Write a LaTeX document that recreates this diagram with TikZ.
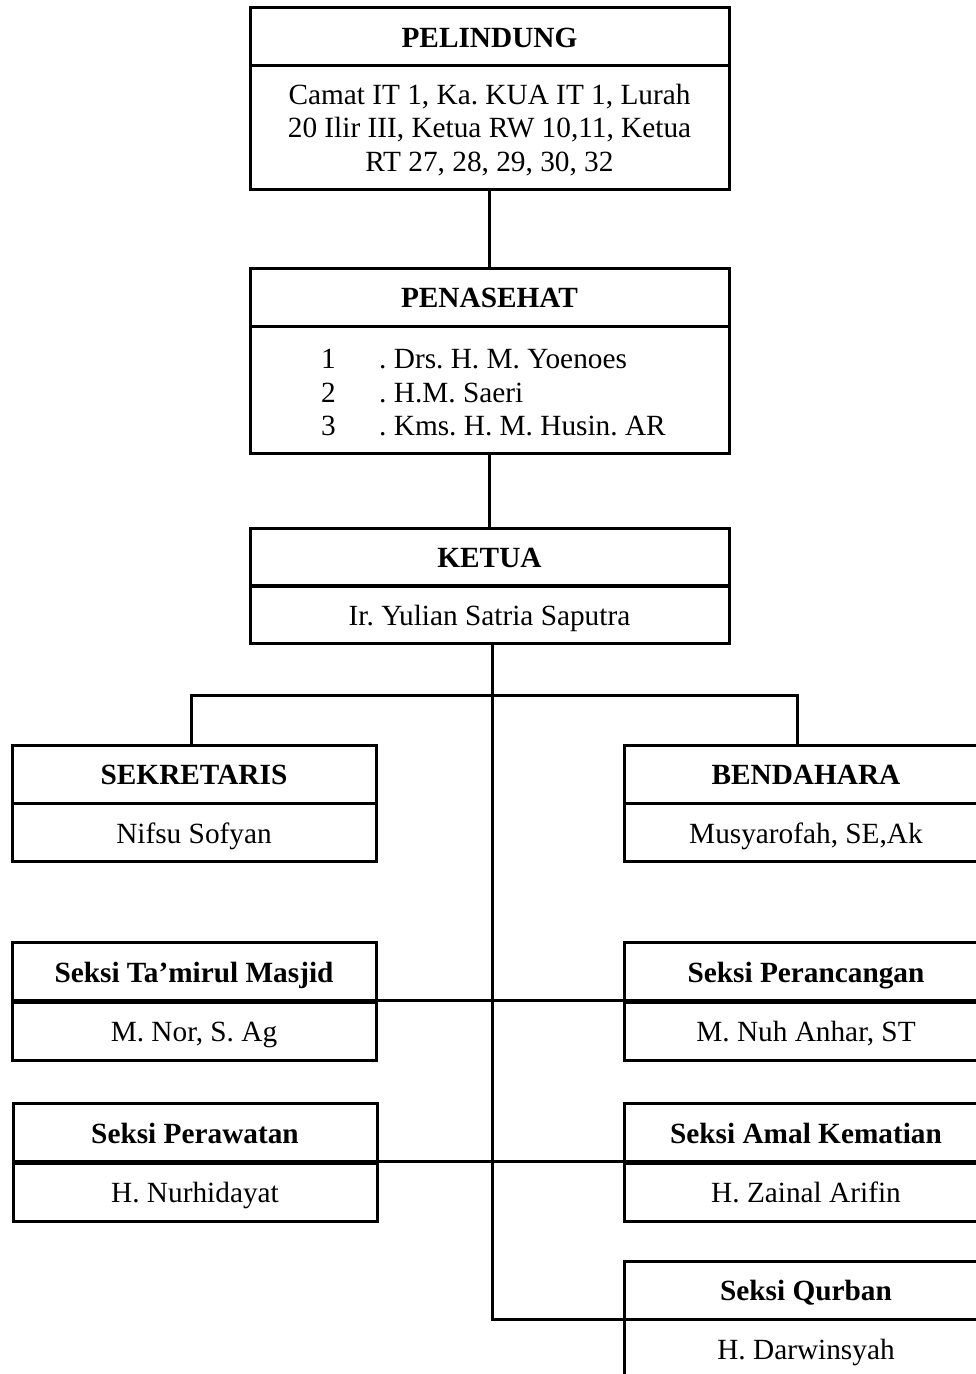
\documentclass[tikz,border=0pt]{standalone}
\usepackage{fontspec}
\setmainfont{Liberation Serif}
\frenchspacing
\tikzset{
  judul/.style={draw, line width=3pt, inner sep=0pt, outer sep=0pt,
    minimum width=479pt, minimum height=58pt, text height=23pt, text depth=2pt,
    font=\fontsize{29.3}{33.5}\selectfont\bfseries},
  isi/.style={draw, line width=3pt, inner sep=0pt, outer sep=0pt,
    minimum width=479pt, minimum height=58pt, text height=23pt, text depth=2pt,
    align=center, font=\fontsize{29.3}{33.5}\selectfont},
  banyak/.style={text height={}, text depth={}},
  seksi/.style={minimum width=364pt},
  garis/.style={line width=3pt}
}

\begin{document}
\begin{tikzpicture}[x=1pt, y=-1pt]
  \clip (0,0) rectangle (976,1374);
  \fill[white] (0,0) rectangle (976,1374);

  % Pelindung
  \node[judul] (pelindung) at (489.5,36.5) {PELINDUNG};
  \node[isi, banyak, minimum height=124pt] (pelindungisi) at (489.5,127)
    {\rule{0pt}{26pt}Camat IT 1, Ka. KUA IT 1, Lurah\\20 Ilir III, Ketua RW 10,11, Ketua\\RT 27, 28, 29, 30, 32};

  % Penasehat
  \node[judul] (penasehat) at (489.5,297) {PENASEHAT};
  \node[isi, banyak, minimum height=127pt] (penasehatisi) at (489.5,389.5)
    {\hspace*{8pt}\begin{tabular}{@{}p{58pt}@{}l@{}}
      \rule{0pt}{36pt}1 & . Drs. H. M. Yoenoes\\
      2 & . H.M. Saeri\\
      3 & . Kms. H. M. Husin. AR
    \end{tabular}};

  % Ketua
  \node[judul] (ketua) at (489.5,557) {KETUA};
  \node[isi] (ketuaisi) at (489.5,614.5) {Ir. Yulian Satria Saputra};

  % Sekretaris and Bendahara
  \node[judul, seksi] (sekretaris) at (194,774) {SEKRETARIS};
  \node[isi, seksi] (sekretarisisi) at (194,832.5) {Nifsu Sofyan};
  \node[judul, seksi] (bendahara) at (806,774) {BENDAHARA};
  \node[isi, seksi] (bendaharaisi) at (806,832.5) {Musyarofah, SE,Ak};

  % Seksi-seksi
  \node[judul, seksi] (tamirul) at (194,971.5) {Seksi Ta'mirul Masjid};
  \node[isi, seksi] (tamirulisi) at (194,1031) {M. Nor, S. Ag};
  \node[judul, seksi] (perancangan) at (806,971.5) {Seksi Perancangan};
  \node[isi, seksi] (perancanganisi) at (806,1031) {M. Nuh Anhar, ST};
  \node[judul, seksi] (perawatan) at (195,1132.5) {Seksi Perawatan};
  \node[isi, seksi] (perawatanisi) at (195,1192) {H. Nurhidayat};
  \node[judul, seksi] (amal) at (806,1132.5) {Seksi Amal Kematian};
  \node[isi, seksi] (amalisi) at (806,1192) {H. Zainal Arifin};
  \node[judul, seksi] (qurban) at (806,1290) {Seksi Qurban};
  \node[isi, seksi, minimum height=59pt] (qurbanisi) at (806,1348.5) {H. Darwinsyah};

  % Garis
  \coordinate (cabang) at (492,695);
  \draw[garis] (pelindungisi.south) -- (penasehat.north);
  \draw[garis] (penasehatisi.south) -- (ketua.north);
  \draw[garis] ([xshift=2.5pt]ketuaisi.south) |- (qurban.south west);
  \draw[garis] ([xshift=-3pt]sekretaris.north) |- (cabang) -| ([xshift=-9pt]bendahara.north);
  \draw[garis] (tamirul.south east) -- (perancangan.south west);
  \draw[garis] (perawatan.south east) -- (amal.south west);
\end{tikzpicture}
\end{document}
